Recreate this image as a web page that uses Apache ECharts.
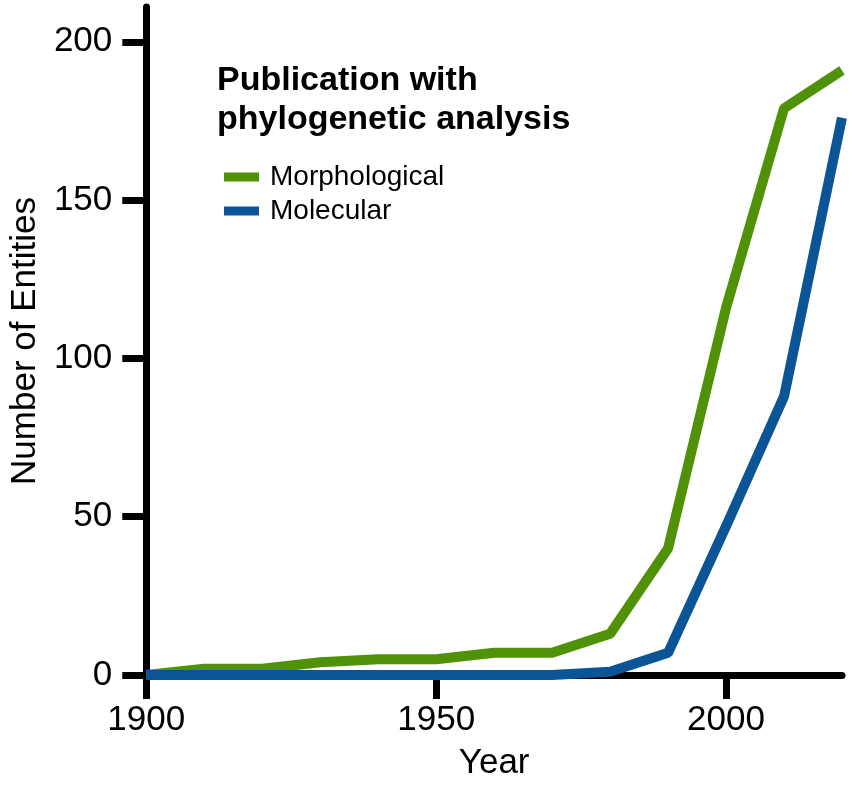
<!DOCTYPE html>
<html>
<head>
<meta charset="utf-8">
<script src="https://cdn.jsdelivr.net/npm/echarts@6/dist/echarts.min.js"></script>
<style>html,body{margin:0;padding:0;background:#fff;}#c{width:851px;height:786px;}</style>
</head>
<body>
<div id="c"></div>
<script>
const years = [1900,1910,1920,1930,1940,1950,1960,1970,1980,1990,2000,2010,2020];
const morphological = [0,2,2,4,5,5,7,7,13,40,116,179,191];
const molecular = [0,0,0,0,0,0,0,0,1,7,47,88,176];
const xTicks = [1900,1950,2000];
const yTicks = [0,50,100,150,200];

const chart = echarts.init(document.getElementById('c'));
const font = 'Liberation Sans, Arial, sans-serif';
chart.setOption({
  animation: false,
  grid: {left:140, right:9, top:7, bottom:106, containLabel:false},
  title: {
    text: 'Publication with\nphylogenetic analysis',
    left: 212, top: 56,
    textStyle: {fontFamily: font, fontWeight: 'bold', fontSize: 34, color: '#000', lineHeight: 39}
  },
  legend: {
    orient: 'vertical', left: 219, top: 158, itemWidth: 35, itemHeight: 9, itemGap: 6,
    icon: 'rect',
    textStyle: {fontFamily: font, fontSize: 28, lineHeight: 28, color: '#000', padding: [0,0,0,6]},
    data: ['Morphological','Molecular']
  },
  xAxis: {
    type: 'value', min: 1900, max: 2020,
    name: 'Year', nameLocation: 'middle', nameGap: 71,
    nameTextStyle: {fontFamily: font, fontSize: 35, color: '#000'},
    axisLine: {lineStyle: {color: '#000', width: 7}},
    axisTick: {length: 24, lineStyle: {width: 7, color: '#000'}, customValues: xTicks},
    axisLabel: {fontFamily: font, fontSize: 35, color: '#000', margin: 28, customValues: xTicks,
      formatter: v => String(v)},
    splitLine: {show: false}
  },
  yAxis: {
    type: 'value', min: 0, max: 211,
    name: 'Number of Entities', nameLocation: 'middle', nameGap: 102,
    nameTextStyle: {fontFamily: font, fontSize: 35, color: '#000'},
    axisLine: {lineStyle: {color: '#000', width: 7}},
    axisTick: {length: 24, lineStyle: {width: 7, color: '#000'}, customValues: yTicks},
    axisLabel: {fontFamily: font, fontSize: 35, color: '#000', margin: 34, customValues: yTicks,
      formatter: v => String(v)},
    splitLine: {show: false}
  },
  series: [
    {name: 'Morphological', type: 'line', data: years.map((y,i)=>[y, morphological[i]]),
     showSymbol: false, symbol: 'none', lineStyle: {width: 10, color: '#4f9207'}, itemStyle: {color: '#4f9207'}},
    {name: 'Molecular', type: 'line', data: years.map((y,i)=>[y, molecular[i]]),
     showSymbol: false, symbol: 'none', lineStyle: {width: 10, color: '#0b5495'}, itemStyle: {color: '#0b5495'}}
  ]
});
</script>
</body>
</html>
